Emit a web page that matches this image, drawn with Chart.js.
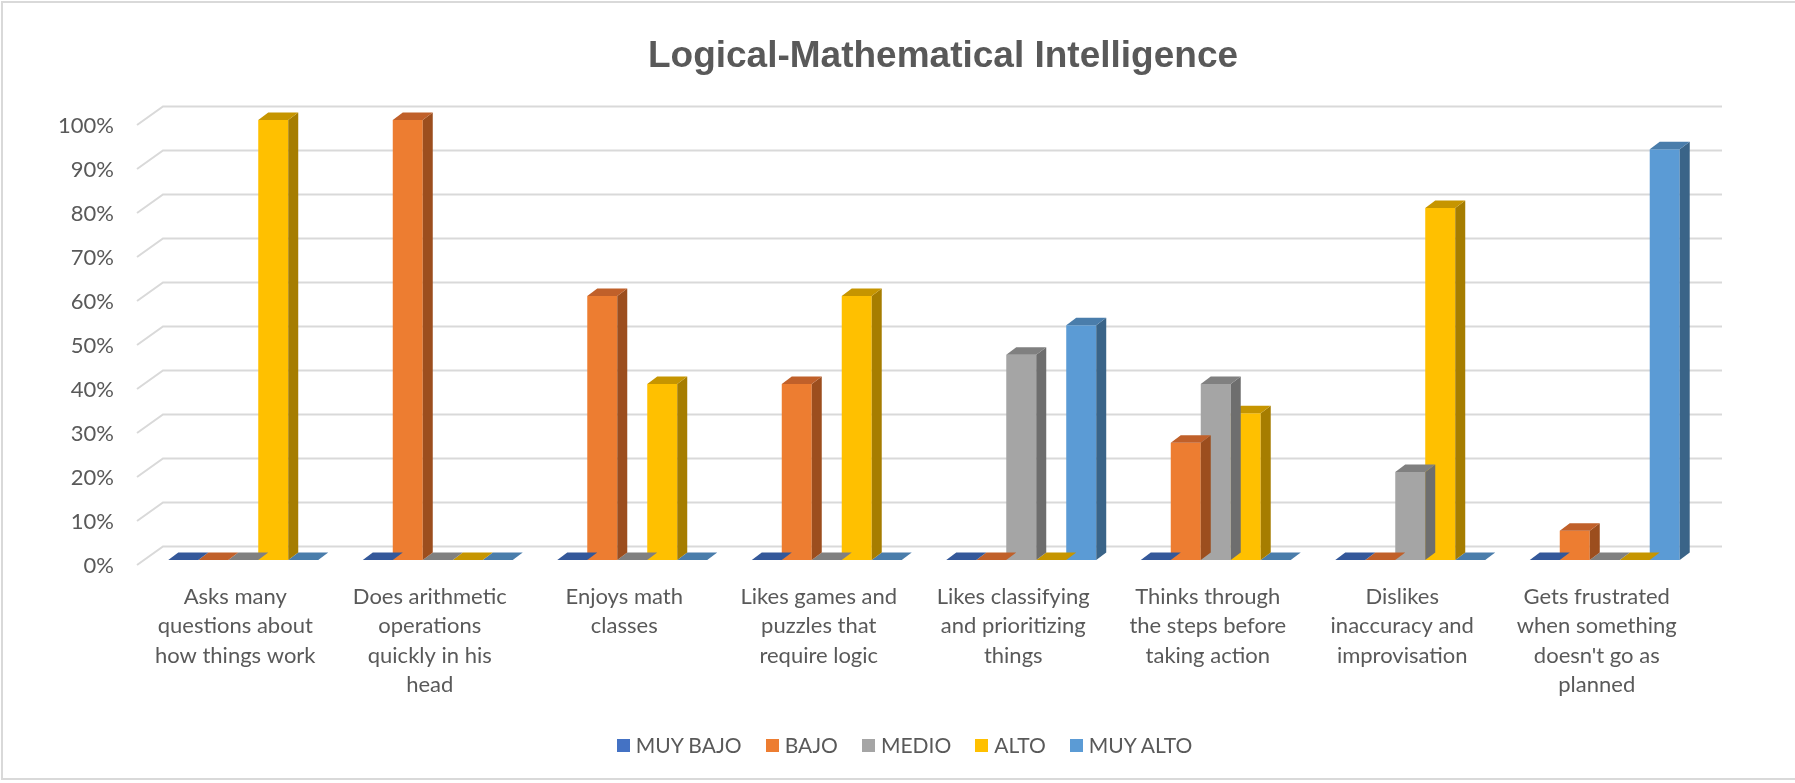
<!DOCTYPE html>
<html>
<head>
<meta charset="utf-8">
<script src="https://cdn.jsdelivr.net/npm/chart.js@4/dist/chart.umd.min.js"></script>
<style>
    body { margin: 0; background: #fff; }
    #wrap { position: relative; width: 1795px; height: 783px; }
    #frame { position: absolute; left: 1px; top: 1px; width: 1794px; height: 779px;
             border-left: 2px solid #d9d9d9; border-top: 2px solid #d9d9d9; border-bottom: 2px solid #d9d9d9;
             box-sizing: border-box; pointer-events: none; }
    #title { position: absolute; left: 0; top: 36px; width: 1795px; padding-left: 91px; box-sizing: border-box;
             text-align: center; font: bold 37px/37px "Liberation Sans", Arial, sans-serif; color: #595959; }
    #legend { position: absolute; left: 0; top: 734px; width: 1795px; padding-left: 14px; box-sizing: border-box;
              display: flex; justify-content: center; align-items: center; height: 22px;
              font: 21px/22px Lato, sans-serif; color: #595959; }
    .item { display: flex; align-items: center; margin: 0 12px; }
    .box { width: 13px; height: 13px; margin-right: 6px; }
</style>
</head>
<body>
<div id="wrap">
    <canvas id="chart" width="1795" height="783"></canvas>
    <div id="title">Logical-Mathematical Intelligence</div>
    <div id="legend"></div>
    <div id="frame"></div>
</div>
<script>
// Categorías (etiquetas en varias líneas)
const categories = [
    ['Asks many', 'questions about', 'how things work'],
    ['Does arithmetic', 'operations', 'quickly in his', 'head'],
    ['Enjoys math', 'classes'],
    ['Likes games and', 'puzzles that', 'require logic'],
    ['Likes classifying', 'and prioritizing', 'things'],
    ['Thinks through', 'the steps before', 'taking action'],
    ['Dislikes', 'inaccuracy and', 'improvisation'],
    ['Gets frustrated', 'when something', "doesn't go as", 'planned']
];

// Valores en %
const muyBajo = [0, 0, 0, 0, 0, 0, 0, 0];
const bajo    = [0, 100, 60, 40, 0, 26.67, 0, 6.67];
const medio   = [0, 0, 0, 0, 46.67, 40, 20, 0];
const alto    = [100, 0, 40, 60, 0, 33.33, 80, 0];
const muyAlto = [0, 0, 0, 0, 53.33, 0, 0, 93.33];

const seriesNames = ['MUY BAJO', 'BAJO', 'MEDIO', 'ALTO', 'MUY ALTO'];
const yTicks = [0, 10, 20, 30, 40, 50, 60, 70, 80, 90, 100];

// Colores: frente, tapa, lateral
const frontColors = ['#4472C4', '#ED7D31', '#A5A5A5', '#FFC000', '#5B9BD5'];
const topColors   = ['#34589A', '#C0602A', '#808080', '#C69500', '#4A7DAB'];
const sideColors  = ['#2C4C86', '#9C4E1E', '#6E6E6E', '#A67D00', '#3A6488'];

const DX = 10, DY = 7.5;

// Pared del fondo con líneas de rejilla en perspectiva
const backWall = {
    id: 'backWall',
    beforeDatasetsDraw(chart) {
        const { ctx, chartArea } = chart;
        const y = chart.scales.y;
        ctx.save();
        ctx.strokeStyle = '#d9d9d9';
        ctx.lineWidth = 2;
        yTicks.forEach(v => {
            const py = y.getPixelForValue(v);
            ctx.beginPath();
            ctx.moveTo(chartArea.left - 9, py + 5);
            ctx.lineTo(chartArea.left + 17, py - 13.5);
            ctx.lineTo(chartArea.right + 20, py - 13.5);
            ctx.stroke();
        });
        ctx.restore();
    }
};

// Caras superior y lateral de cada barra
const bars3d = {
    id: 'bars3d',
    afterDatasetDraw(chart, args) {
        const { ctx } = chart;
        const i = args.index;
        ctx.save();
        args.meta.data.forEach(bar => {
            const x0 = bar.x - bar.width / 2;
            const x1 = bar.x + bar.width / 2;
            const yt = bar.y;
            const yb = bar.base;
            if (yb - yt > 0.5) {
                ctx.fillStyle = sideColors[i];
                ctx.beginPath();
                ctx.moveTo(x1, yt);
                ctx.lineTo(x1 + DX, yt - DY);
                ctx.lineTo(x1 + DX, yb - DY);
                ctx.lineTo(x1, yb);
                ctx.closePath();
                ctx.fill();
            }
            ctx.fillStyle = topColors[i];
            ctx.beginPath();
            ctx.moveTo(x0, yt);
            ctx.lineTo(x1, yt);
            ctx.lineTo(x1 + DX, yt - DY);
            ctx.lineTo(x0 + DX, yt - DY);
            ctx.closePath();
            ctx.fill();
        });
        ctx.restore();
    }
};

const allSeries = [muyBajo, bajo, medio, alto, muyAlto];

Chart.defaults.font.family = 'Lato';
Chart.defaults.color = '#595959';

new Chart(document.getElementById('chart'), {
    type: 'bar',
    data: {
        labels: categories,
        datasets: allSeries.map((d, i) => ({
            label: seriesNames[i],
            data: d,
            backgroundColor: frontColors[i],
            borderWidth: 0,
            barPercentage: 1,
            categoryPercentage: 0.771
        }))
    },
    options: {
        responsive: false,
        animation: false,
        layout: { padding: { left: 0, right: 93, top: 120, bottom: 0 } },
        plugins: {
            legend: { display: false },
            title: { display: false },
            tooltip: { enabled: false }
        },
        scales: {
            x: {
                grid: { display: false, drawTicks: false },
                border: { display: false },
                ticks: {
                    font: { size: 22, lineHeight: 1.34 },
                    padding: 22,
                    labelOffset: -8,
                    maxRotation: 0,
                    autoSkip: false
                },
                afterFit(scale) { scale.height = 223; }
            },
            y: {
                min: 0,
                max: 100,
                grid: { display: false, drawTicks: false },
                border: { display: false },
                ticks: {
                    stepSize: 10,
                    font: { size: 22 },
                    padding: 32,
                    labelOffset: 6,
                    callback: v => v + '%'
                },
                afterFit(scale) { scale.width = 146; }
            }
        }
    },
    plugins: [backWall, bars3d]
});

// Leyenda
const legend = document.getElementById('legend');
seriesNames.forEach((name, i) => {
    const item = document.createElement('div');
    item.className = 'item';
    item.innerHTML = '<span class="box" style="background:' + frontColors[i] + '"></span>' + name;
    legend.appendChild(item);
});
</script>
</body>
</html>
